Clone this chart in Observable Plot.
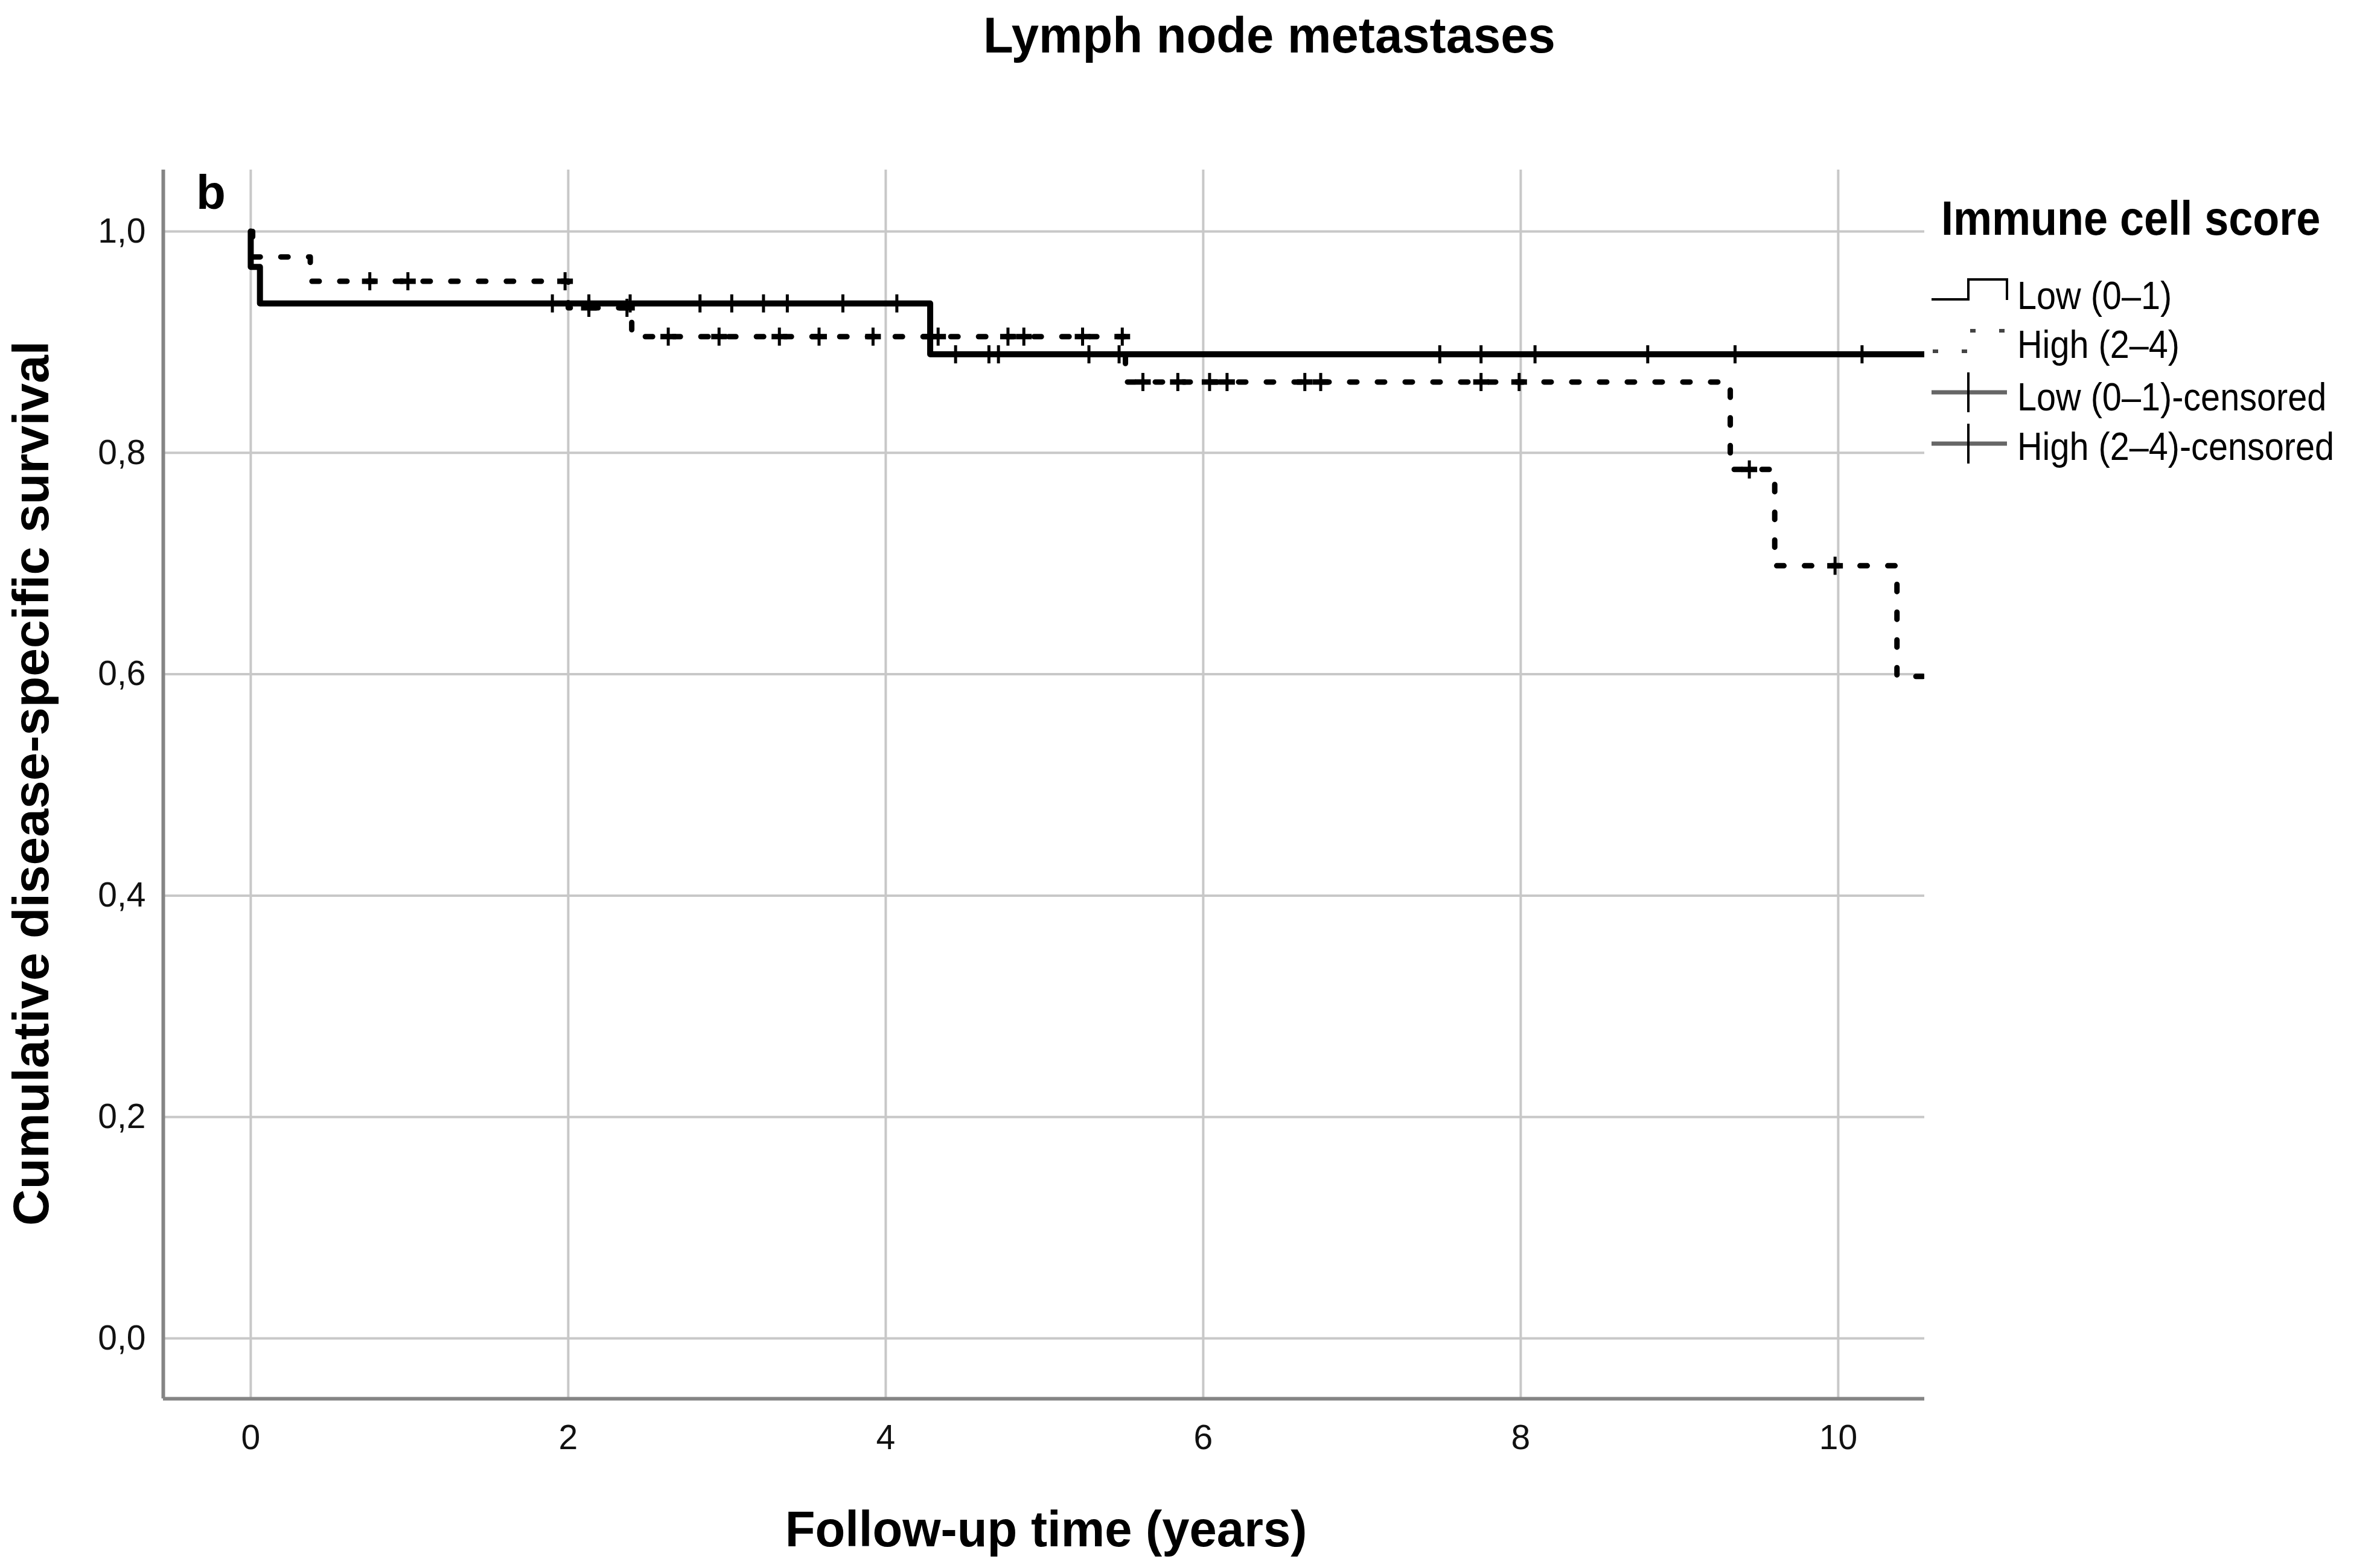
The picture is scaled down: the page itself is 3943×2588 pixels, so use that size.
<!DOCTYPE html>
<html>
<head>
<meta charset="utf-8">
<script src="https://cdn.jsdelivr.net/npm/d3@7"></script>
<script src="https://cdn.jsdelivr.net/npm/@observablehq/plot@0.6"></script>
<style>
  html, body { margin: 0; padding: 0; background: #fff; }
  svg { display: block; }
</style>
</head>
<body>
<div id="chart"></div>
<script>
// ---- data ----
const xTicks = [0, 2, 4, 6, 8, 10];
const yTicks = [0, 0.2, 0.4, 0.6, 0.8, 1.0];

// Low (0–1): step times and survival after each step
const lowTime = [0, 0, 0.058, 4.28, 10.6];
const lowSurv = [1, 0.968, 0.935, 0.889, 0.889];
const lowCensored = [1.90, 2.13, 2.39, 2.83, 3.03, 3.23, 3.38, 3.73, 4.07, 4.44, 4.65, 4.71,
  5.28, 5.47, 7.49, 7.75, 8.09, 8.80, 9.35, 10.15];

// High (2–4)
const highTime = [0, 0.012, 0.375, 2.0, 2.40, 5.51, 9.32, 9.60, 10.37, 10.6];
const highSurv = [1, 0.977, 0.955, 0.931, 0.905, 0.864, 0.785, 0.698, 0.598, 0.598];
const highCensored = [0.75, 0.99, 1.98, 2.13, 2.37, 2.63, 2.95, 3.33, 3.58, 3.92, 4.28, 4.33,
  4.77, 4.87, 5.24, 5.49, 5.62, 5.84, 6.04, 6.15, 6.64, 6.74, 7.75, 7.99, 9.44, 9.98];

const groupLabels = ["Low (0\u20131)", "High (2\u20134)", "Low (0\u20131)-censored", "High (2\u20134)-censored"];
const legendTitle = "Immune cell score";
const chartTitle = "Lymph node metastases";
const xLabel = "Follow-up time (years)";
const yLabel = "Cumulative disease-specific survival";
const panelLabel = "b";

// ---- helpers ----
const rows = (T, S) => T.map((t, i) => ({t, s: S[i]}));
function survAt(T, S, t) { let s = S[0]; for (let i = 0; i < T.length; i++) if (T[i] <= t) s = S[i]; return s; }
const lowRows = rows(lowTime, lowSurv);
const highRows = rows(highTime, highSurv);
const lowCens = lowCensored.map(t => ({t, s: survAt(lowTime, lowSurv, t)}));
const highCens = highCensored.map(t => ({t, s: survAt(highTime, highSurv, t)}));

const vTick = {draw(ctx, size) { const r = Math.sqrt(size / Math.PI); ctx.moveTo(0, -r); ctx.lineTo(0, r); }};
const hBar = {draw(ctx, size) { const r = Math.sqrt(size / Math.PI); ctx.moveTo(-r, 0); ctx.lineTo(r, 0); }};

const W = 3943, H = 2588;
const xDomain = [-0.551, 10.544];
const yDomain = [-0.0545, 1.0556];
const FONT = "'Liberation Sans', Arial, Helvetica, sans-serif";
const grid = {stroke: "#c8c8c8", strokeWidth: 4};
const axisLine = {stroke: "#858585", strokeWidth: 6};

const plot = Plot.plot({
  width: W,
  height: H,
  marginLeft: 270,
  marginRight: W - 3188,
  marginTop: 281,
  marginBottom: H - 2317,
  style: {fontFamily: FONT, fontSize: "57px", color: "#111", background: "#fff"},
  x: {domain: xDomain, ticks: xTicks, tickSize: 0, tickPadding: 43, label: null, tickFormat: d => String(d)},
  y: {domain: yDomain, ticks: yTicks, tickSize: 0, tickPadding: 29, label: null, tickFormat: d => d.toFixed(1).replace(".", ",")},
  marks: [
    Plot.ruleX(xTicks, grid),
    Plot.ruleY(yTicks, grid),
    Plot.ruleX([xDomain[0]], axisLine),
    Plot.ruleY([yDomain[0]], axisLine),
    Plot.line(lowRows, {x: "t", y: "s", curve: "step-after", stroke: "black", strokeWidth: 10, clip: true}),
    Plot.line(highRows, {x: "t", y: "s", curve: "step-after", stroke: "black", strokeWidth: 9, strokeDasharray: "12 34", clip: true}),
    Plot.dot(lowCens, {x: "t", y: "s", symbol: vTick, r: 15, stroke: "black", strokeWidth: 5, fill: "none"}),
    Plot.dot(highCens, {x: "t", y: "s", symbol: hBar, r: 13, stroke: "black", strokeWidth: 9, fill: "none"}),
    Plot.dot(highCens, {x: "t", y: "s", symbol: vTick, r: 15, stroke: "black", strokeWidth: 5, fill: "none"})
  ]
});

document.getElementById("chart").appendChild(plot);

// ---- titles, panel label and legend ----
const svg = d3.select(plot);
const g = svg.append("g").attr("font-family", FONT).attr("fill", "black").attr("text-anchor", "start");

// narrow a text horizontally (the reference typeface is slightly condensed)
function condense(sel, factor) {
  const n = sel.node();
  const len = n.getComputedTextLength();
  sel.attr("textLength", len * factor).attr("lengthAdjust", "spacingAndGlyphs");
  return sel;
}

condense(g.append("text").attr("x", 2103).attr("y", 87).attr("text-anchor", "middle")
  .attr("font-size", 84).attr("font-weight", "bold").text(chartTitle), 0.97);
condense(g.append("text").attr("x", 1733).attr("y", 2562).attr("text-anchor", "middle")
  .attr("font-size", 84).attr("font-weight", "bold").text(xLabel), 0.97);
g.append("text").attr("transform", "translate(80,1298) rotate(-90)").attr("text-anchor", "middle")
  .attr("font-size", 84).attr("font-weight", "bold").text(yLabel);
g.append("text").attr("x", 325).attr("y", 346).attr("text-anchor", "start")
  .attr("font-size", 80).attr("font-weight", "bold").text(panelLabel);

// legend
condense(g.append("text").attr("x", 3216).attr("y", 389).attr("text-anchor", "start")
  .attr("font-size", 80).attr("font-weight", "bold").text(legendTitle), 0.9);
const baselines = [512, 593, 680, 762];
groupLabels.forEach((lab, i) => {
  condense(g.append("text").attr("x", 3342).attr("y", baselines[i]).attr("text-anchor", "start")
    .attr("font-size", 64).text(lab), 0.9);
});
// Low symbol: solid step
g.append("path").attr("d", "M3200,496 H3261 V463 H3325 V497")
  .attr("fill", "none").attr("stroke", "black").attr("stroke-width", 4);
// High symbol: dotted step
g.append("path").attr("d", "M3200,582 H3262 V548 H3325")
  .attr("fill", "none").attr("stroke", "#444").attr("stroke-width", 6)
  .attr("stroke-dasharray", "9 39").attr("stroke-dashoffset", -2);
// censored symbols
[650, 735].forEach(y => {
  g.append("line").attr("x1", 3200).attr("x2", 3325).attr("y1", y).attr("y2", y)
    .attr("stroke", "#666").attr("stroke-width", 7);
  g.append("line").attr("x1", 3261).attr("x2", 3261).attr("y1", y - 33).attr("y2", y + 33)
    .attr("stroke", "black").attr("stroke-width", 4);
});
</script>
</body>
</html>
